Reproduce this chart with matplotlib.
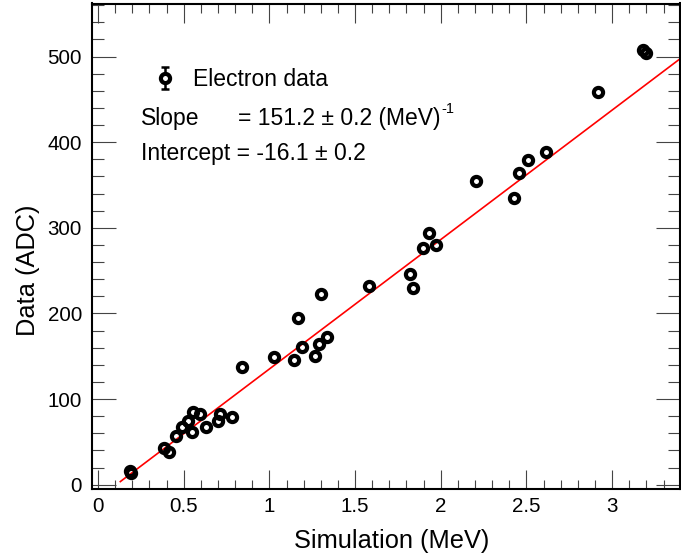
import matplotlib
matplotlib.use("Agg")
import matplotlib.pyplot as plt
from matplotlib.ticker import MultipleLocator, FormatStrFormatter
from matplotlib.lines import Line2D
from matplotlib.path import Path
from matplotlib.legend_handler import HandlerTuple
import numpy as np

plt.rcParams['font.family'] = ['Liberation Sans', 'DejaVu Sans']

# Data (Simulation MeV, Data ADC)
sim_mev = [0.185, 0.19, 0.385, 0.412, 0.455, 0.492, 0.523, 0.556, 0.550, 0.595,
           0.632, 0.702, 0.712, 0.782, 0.840, 1.025, 1.144, 1.165, 1.192, 1.264,
           1.291, 1.299, 1.338, 1.579, 1.820, 1.840, 1.898, 1.931, 1.972, 2.205,
           2.430, 2.458, 2.507, 2.614, 2.919, 3.181, 3.200]
data_adc = [15.5, 13.5, 42.4, 38.4, 56.7, 66.9, 74.6, 85.1, 61.0, 82.0,
            66.9, 74.6, 82.7, 79.2, 137.6, 149.2, 145.4, 194.1, 160.9, 149.7,
            164.1, 222.1, 171.9, 232.1, 246.6, 229.8, 276.9, 293.9, 280.4, 354.6,
            334.8, 364.0, 379.6, 388.0, 458.5, 508.0, 504.5]

fit_slope = 151.2
fit_intercept = -16.1
fit_range = [0.13, 3.40]

W, H = 681, 559
fig = plt.figure(figsize=(W / 100, H / 100), dpi=100)
left, right, top, bottom = 91.7, 680.0, 3.5, 489.0
ax = fig.add_axes([left / W, 1 - bottom / H, (right - left) / W, (bottom - top) / H])

MS, MEW = 6.6, 3.0

# fit line
xf = np.array(fit_range)
ax.plot(xf, fit_slope * xf + fit_intercept, color='red', lw=1.2, zorder=2)

# data points
ax.plot(sim_mev, data_adc, linestyle='none', marker='o', ms=MS, mew=MEW,
        mfc='none', mec='black', zorder=3)

# legend proxy: error bar with caps + open circle
bar_path = Path([(-0.4, -1), (0.4, -1), (0, -1), (0, 1), (-0.4, 1), (0.4, 1)],
                [Path.MOVETO, Path.LINETO, Path.MOVETO, Path.LINETO, Path.MOVETO, Path.LINETO])
bar_handle = Line2D([], [], linestyle='none', marker=bar_path, ms=16, mew=1.8,
                    mec='black', mfc='none')
mk_handle = Line2D([], [], linestyle='none', marker='o', ms=MS, mew=MEW,
                   mfc='white', mec='black')

ax.set_xlim(-0.037, 3.396)
ax.set_ylim(-5.1, 562)

ax.xaxis.set_major_locator(MultipleLocator(0.5))
ax.xaxis.set_minor_locator(MultipleLocator(0.1))
ax.yaxis.set_major_locator(MultipleLocator(100))
ax.yaxis.set_minor_locator(MultipleLocator(20))
ax.xaxis.set_major_formatter(FormatStrFormatter('%g'))
ax.yaxis.set_major_formatter(FormatStrFormatter('%g'))

tick_col = '#444444'
ax.tick_params(axis='x', which='major', direction='in', length=13.7, width=0.8,
               color=tick_col, top=True, bottom=True, labelsize=14.8, pad=6)
ax.tick_params(axis='x', which='minor', direction='in', length=6.5, width=0.8,
               color=tick_col, top=True, bottom=True)
ax.tick_params(axis='y', which='major', direction='in', length=17.3, width=0.8,
               color=tick_col, left=True, right=True, labelsize=14.8, pad=7)
ax.tick_params(axis='y', which='minor', direction='in', length=8.6, width=0.8,
               color=tick_col, left=True, right=True)

for s in ax.spines.values():
    s.set_linewidth(1.5)
    s.set_color('black')

def fx(px):
    return px / W

def fy(py):
    return 1 - py / H

fig.text(fx(392), fy(548), 'Simulation (MeV)', fontsize=18.3, ha='center', va='baseline')
fig.text(fx(28), fy(270), 'Data (ADC)', fontsize=18.3, ha='center', va='center', rotation=90)

leg = ax.legend(handles=[(bar_handle, mk_handle)], labels=['Electron data'],
                handler_map={tuple: HandlerTuple(ndivide=1)},
                loc='center left',
                bbox_to_anchor=((153.5 - left) / (right - left), (bottom - 80) / (bottom - top)),
                frameon=False, fontsize=16.5, handlelength=1.0, handletextpad=0.72,
                borderpad=0, borderaxespad=0)

FS = 16.5
y1, y2 = 125, 160
fig.text(fx(141), fy(y1), 'Slope', fontsize=FS, ha='left', va='baseline')
t_eq = fig.text(fx(238), fy(y1), '= 151.2 \u00b1 0.2 (MeV)', fontsize=FS, ha='left', va='baseline')
fig.text(fx(141), fy(y2), 'Intercept = -16.1 \u00b1 0.2', fontsize=FS, ha='left', va='baseline')

renderer = fig.canvas.get_renderer()
bb = t_eq.get_window_extent(renderer=renderer)
fig.text((bb.x1 + 1) / W, (bb.y0 + 0.55 * (bb.y1 - bb.y0) + 4) / H, '-1', fontsize=10.5,
         ha='left', va='baseline')

fig.savefig('out.png', dpi=100)
